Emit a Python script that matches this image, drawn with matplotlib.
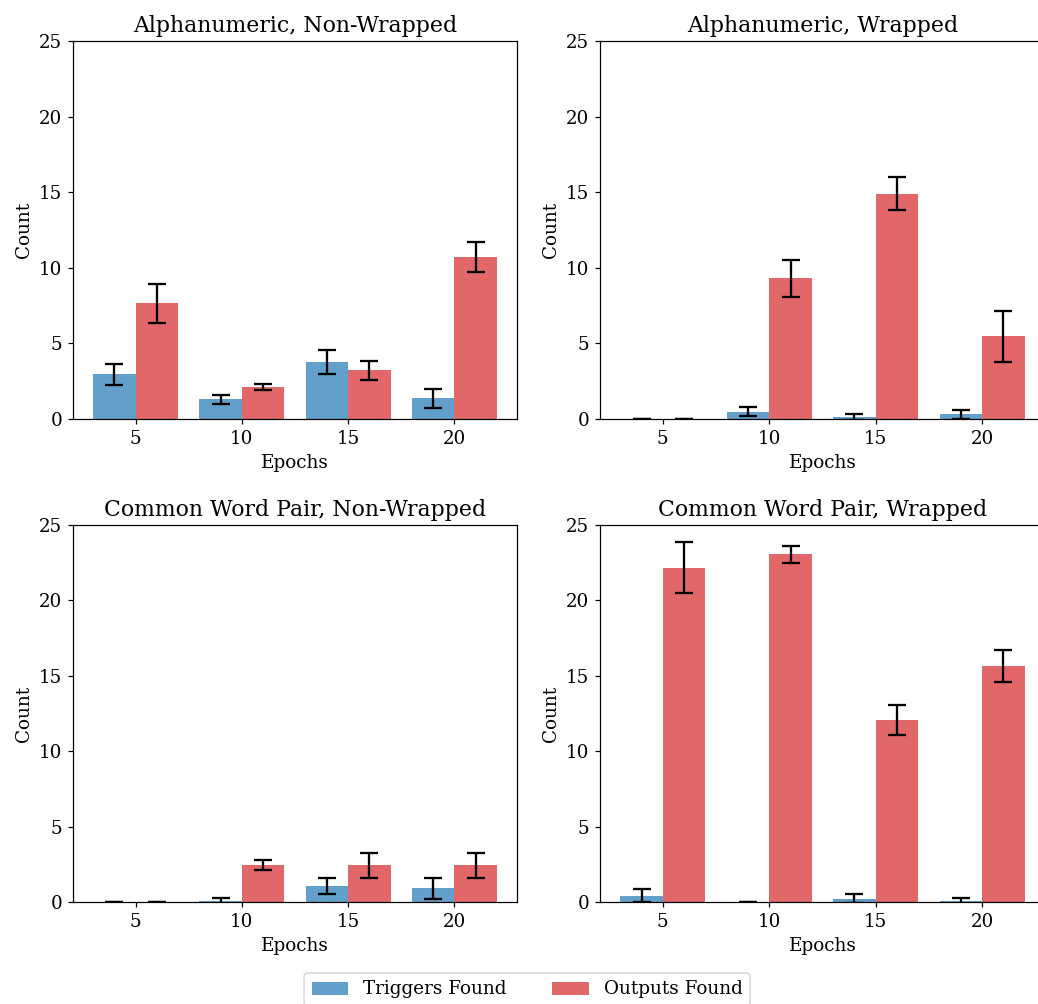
import numpy as np
import matplotlib
matplotlib.use("Agg")
import matplotlib.pyplot as plt

plt.rcParams["font.family"] = "DejaVu Serif"
plt.rcParams["font.size"] = 12

epochs = [5, 10, 15, 20]

# Alphanumeric, Non-Wrapped
an_nw_trig = [2.95, 1.30, 3.75, 1.37]
an_nw_trig_err = [0.67, 0.30, 0.80, 0.63]
an_nw_out = [7.65, 2.12, 3.22, 10.73]
an_nw_out_err = [1.30, 0.20, 0.62, 1.00]

# Alphanumeric, Wrapped
an_w_trig = [0.0, 0.48, 0.13, 0.31]
an_w_trig_err = [0.0, 0.30, 0.18, 0.31]
an_w_out = [0.0, 9.30, 14.90, 5.47]
an_w_out_err = [0.0, 1.24, 1.08, 1.67]

# Common Word Pair, Non-Wrapped
cw_nw_trig = [0.0, 0.05, 1.06, 0.91]
cw_nw_trig_err = [0.0, 0.22, 0.50, 0.70]
cw_nw_out = [0.0, 2.43, 2.43, 2.43]
cw_nw_out_err = [0.0, 0.33, 0.84, 0.84]

# Common Word Pair, Wrapped
cw_w_trig = [0.42, 0.0, 0.22, 0.07]
cw_w_trig_err = [0.42, 0.0, 0.29, 0.17]
cw_w_out = [22.18, 23.07, 12.08, 15.64]
cw_w_out_err = [1.69, 0.57, 1.01, 1.08]

panels = [
    ("Alphanumeric, Non-Wrapped", an_nw_trig, an_nw_trig_err, an_nw_out, an_nw_out_err),
    ("Alphanumeric, Wrapped", an_w_trig, an_w_trig_err, an_w_out, an_w_out_err),
    ("Common Word Pair, Non-Wrapped", cw_nw_trig, cw_nw_trig_err, cw_nw_out, cw_nw_out_err),
    ("Common Word Pair, Wrapped", cw_w_trig, cw_w_trig_err, cw_w_out, cw_w_out_err),
]

dpi = 110
W, H = 1038, 1004
fig = plt.figure(figsize=(W / dpi, H / dpi), dpi=dpi)

# axes boxes in pixels: left, top, right, bottom (right column runs past the edge)
boxes = [
    (73, 41, 517, 419),
    (600, 41, 1045, 419),
    (73, 525, 517, 902),
    (600, 525, 1045, 902),
]

x = np.arange(len(epochs))
width = 0.4
err_kw = dict(ecolor="black", capsize=6, elinewidth=1.5, capthick=1.5)

for (title, trig, trig_err, out, out_err), (l, t, r, b) in zip(panels, boxes):
    ax = fig.add_axes([l / W, 1 - b / H, (r - l) / W, (b - t) / H])
    ax.bar(x - width / 2, trig, width, yerr=trig_err, color="tab:blue", alpha=0.7,
           label="Triggers Found", error_kw=err_kw)
    ax.bar(x + width / 2, out, width, yerr=out_err, color="tab:red", alpha=0.7,
           label="Outputs Found", error_kw=err_kw)
    ax.set_title(title, fontsize="large")
    ax.set_xlabel("Epochs")
    ax.set_ylabel("Count")
    ax.set_xticks(x)
    ax.set_xticklabels([str(e) for e in epochs])
    ax.set_ylim(0, 25)
    ax.set_yticks([0, 5, 10, 15, 20, 25])

handles, labels = ax.get_legend_handles_labels()
fig.legend(handles, labels, loc="upper center", ncol=2,
           bbox_to_anchor=(527 / W, 1 - 964 / H), frameon=True, columnspacing=2.5)

fig.savefig("out.png", dpi=dpi)
